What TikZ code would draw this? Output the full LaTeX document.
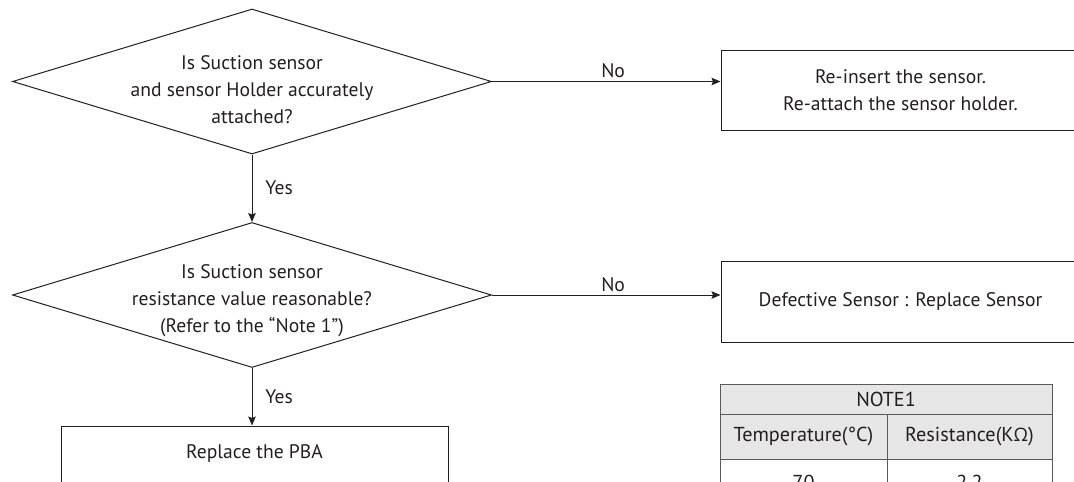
\documentclass[tikz,border=0pt]{standalone}
\usepackage{fontspec}
\setmainfont{PT Sans}
\newfontfamily\greekfont{Open Sans}
\usetikzlibrary{shapes.geometric,arrows.meta}
\definecolor{ink}{HTML}{231F20}
\definecolor{rule}{HTML}{5A5A5A}
\definecolor{headfill}{HTML}{E6E6E6}
\newcommand{\flowfont}{\fontsize{19.6}{27}\selectfont}
\newcommand{\cellfont}{\fontsize{20.2}{27}\selectfont}
\begin{document}
\begin{tikzpicture}[x=1pt,y=-1pt,
  every node/.style={text=ink},
  decision/.style={draw=ink, line width=1pt, shape=diamond, inner sep=0pt,
    minimum width=479pt, minimum height=145pt},
  procbox/.style={draw=ink, line width=1pt, rectangle, inner sep=0pt,
    minimum width=359pt, minimum height=80pt, align=center, font=\flowfont},
  qtext/.style={align=center, font=\flowfont, inner sep=0pt},
  flow/.style={draw=ink, line width=0.9pt, -{Stealth[length=9pt,width=7.5pt,inset=1.5pt]}},
  edgelabel/.style={font=\flowfont, inner sep=3pt},
  cell/.style={font=\cellfont, inner sep=0pt}
]
\useasboundingbox (0,0) rectangle (1074,482);
\clip (0,0) rectangle (1074,482);

% decisions
\node[decision] (d1) at (252,81.5) {};
\node[qtext] (d1t) at (252,90) {Is Suction sensor\\and sensor Holder accurately\\attached?};
\node[decision] (d2) at (252,295) {};
\node[qtext] (d2t) at (252,301) {Is Suction sensor\\resistance value reasonable?\\(Refer to the “Note 1”)};

% actions
\node[procbox] (b1) at (900.5,90) {Re-insert the sensor.\\Re-attach the sensor holder.};
\node[procbox, minimum height=81pt] (b2) at (900.5,301.5) {Defective Sensor : Replace Sensor};
\node[procbox, minimum width=387pt] (b3) at (254.5,466) {};
\node[qtext] (b3t) at (254.5,453) {Replace the PBA};

% connectors
\draw[flow] (d1.east) -- node[edgelabel, above, pos=0.53] {No} (d1.east -| b1.west);
\draw[flow] (d2.east) -- node[edgelabel, above, pos=0.53] {No} (d2.east -| b2.west);
\draw[flow] (d1.south) -- node[edgelabel, right, xshift=10pt] {Yes} (d2.north);
\draw[flow] (d2.south) -- node[edgelabel, right, xshift=10pt] {Yes} (d2.south |- b3.north);

% resistance table
\fill[headfill] (720,384) rectangle (1052,459);
\draw[rule, line width=1pt] (720,384) rectangle (1052,504);
\draw[rule, line width=1pt] (720,414) -- (1052,414);
\draw[rule, line width=1pt] (720,459) -- (1052,459);
\draw[rule, line width=1pt] (887,414) -- (887,504);
\node[cell] (t0) at (886,399) {NOTE1};
\node[cell] (t1) at (803.5,436.5) {Temperature(°C)};
\node[cell] (t2) at (969.5,436.5) {Resistance(K{\greekfont\fontsize{18.5}{27}\selectfont Ω})};
\node[cell] (t3) at (803.5,482) {70};
\node[cell] (t4) at (969.5,482) {2.2};
\end{tikzpicture}
\end{document}
